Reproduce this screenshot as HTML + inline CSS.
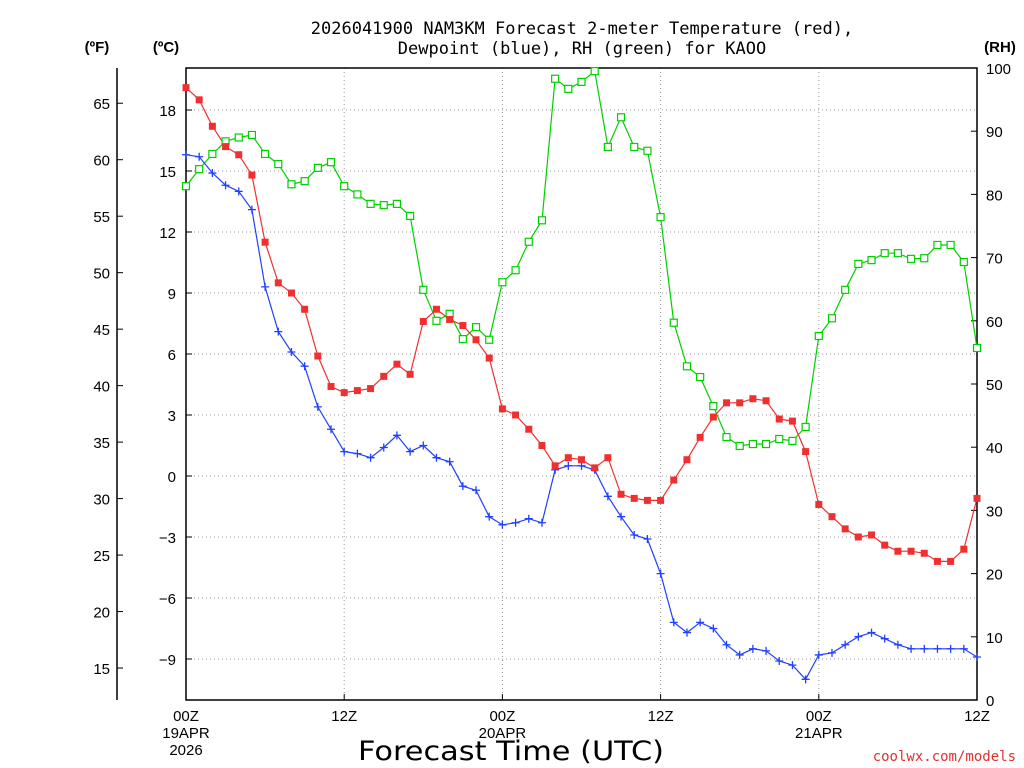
<!DOCTYPE html>
<html><head><meta charset="utf-8"><style>
body{margin:0;background:#fff;width:1024px;height:768px;overflow:hidden}
svg{display:block;font-family:"DejaVu Sans Mono","Liberation Mono",monospace}
</style></head><body>
<svg id="chart" width="1024" height="768" viewBox="0 0 1024 768">
<g id="grid"></g>
<g id="axes"></g>
<g id="series"></g>
<text x="582" y="34" text-anchor="middle" font-size="17">2026041900 NAM3KM Forecast 2-meter Temperature (red),</text>
<text x="582" y="54" text-anchor="middle" font-size="17">Dewpoint (blue), RH (green) for KAOO</text>
<text x="97" y="52" text-anchor="middle" font-size="15" font-weight="bold" font-family="Liberation Sans,sans-serif">(ºF)</text>
<text x="166" y="52" text-anchor="middle" font-size="15" font-weight="bold" font-family="Liberation Sans,sans-serif">(ºC)</text>
<text x="1000" y="52" text-anchor="middle" font-size="15" font-weight="bold" font-family="Liberation Sans,sans-serif">(RH)</text>
<text x="358" y="760" textLength="306" lengthAdjust="spacingAndGlyphs" font-size="27" font-family="DejaVu Sans,sans-serif">Forecast Time (UTC)</text>
<text x="1016" y="761" text-anchor="end" font-size="14" fill="#e03030">coolwx.com/models</text>
</svg>
<script>
const hours=[];for(let i=0;i<=60;i++)hours.push(i);
const tempC=[19.1,18.5,17.2,16.2,15.8,14.8,11.5,9.5,9.0,8.2,5.9,4.4,4.1,4.2,4.3,4.9,5.5,5.0,7.6,8.2,7.7,7.4,6.7,5.8,3.3,3.0,2.3,1.5,0.5,0.9,0.8,0.4,0.9,-0.9,-1.1,-1.2,-1.2,-0.2,0.8,1.9,2.9,3.6,3.6,3.8,3.7,2.8,2.7,1.2,-1.4,-2.0,-2.6,-3.0,-2.9,-3.4,-3.7,-3.7,-3.8,-4.2,-4.2,-3.6,-1.1];
const dewC=[15.8,15.7,14.9,14.3,14.0,13.1,9.3,7.1,6.1,5.4,3.4,2.3,1.2,1.1,0.9,1.4,2.0,1.2,1.5,0.9,0.7,-0.5,-0.7,-2.0,-2.4,-2.3,-2.1,-2.3,0.3,0.5,0.5,0.3,-1.0,-2.0,-2.9,-3.1,-4.8,-7.2,-7.7,-7.2,-7.5,-8.3,-8.8,-8.5,-8.6,-9.1,-9.3,-10.0,-8.8,-8.7,-8.3,-7.9,-7.7,-8.0,-8.3,-8.5,-8.5,-8.5,-8.5,-8.5,-8.9];
const rh=[81.3,84,86.4,88.4,89,89.4,86.4,84.8,81.6,82.1,84.2,85.1,81.3,80,78.5,78.3,78.5,76.6,64.9,60,61.1,57.1,59,57,66.1,68,72.5,75.9,98.3,96.7,97.8,99.5,87.5,92.2,87.5,86.9,76.4,59.7,52.8,51.1,46.5,41.6,40.2,40.5,40.5,41.3,41,43.2,57.6,60.4,64.9,69,69.6,70.7,70.7,69.8,69.9,72,72,69.3,55.7];
const cTicks=[-9,-6,-3,0,3,6,9,12,15,18];
const fTicks=[15,20,25,30,35,40,45,50,55,60,65];
const rhTicks=[0,10,20,30,40,50,60,70,80,90,100];
const xTickHours=[0,12,24,36,48,60];
const xTickLabels=[["00Z","19APR","2026"],["12Z"],["00Z","20APR"],["12Z"],["00Z","21APR"],["12Z"]];

const L=186,R=977,T=68,B=700;
const xS=h=>L+(R-L)*h/60;
const yC=c=>476-c*20.333;
const yF=f=>yC((f-32)*5/9);
const yRH=v=>B-(B-T)*v/100;
const NS="http://www.w3.org/2000/svg";
function mk(tag,attrs,parent,txt){const e=document.createElementNS(NS,tag);for(const k in attrs)e.setAttribute(k,attrs[k]);if(txt!==undefined)e.textContent=txt;parent.appendChild(e);return e;}
const grid=document.getElementById('grid'),axes=document.getElementById('axes'),series=document.getElementById('series');

cTicks.forEach(c=>{const y=yC(c);
 const g=mk('line',{x1:L,x2:R,y1:y,y2:y,stroke:'#999','stroke-dasharray':'1,3'},grid);
 
 mk('line',{x1:L,x2:L+6,y1:y,y2:y,stroke:'#000'},axes);
 const t=mk('text',{x:176,y:y+6,'text-anchor':'end','font-size':15,'font-family':'Liberation Sans,sans-serif'},axes,c<0?'−'+(-c):String(c));
 });
xTickHours.slice(1,5).forEach(h=>{const x=xS(h);
 const g=mk('line',{x1:x,x2:x,y1:T,y2:B,stroke:'#999','stroke-dasharray':'1,3'},grid);
 });
fTicks.forEach(f=>{const y=yF(f);
 mk('line',{x1:117,x2:123,y1:y,y2:y,stroke:'#000'},axes);
 const t=mk('text',{x:110,y:y+6,'text-anchor':'end','font-size':15,'font-family':'Liberation Sans,sans-serif'},axes,String(f));
 });
rhTicks.forEach(v=>{const y=yRH(v);
 mk('line',{x1:R-6,x2:R,y1:y,y2:y,stroke:'#000'},axes);
 const t=mk('text',{x:986,y:y+6,'font-size':15,'font-family':'Liberation Sans,sans-serif'},axes,String(v));
 });
xTickHours.forEach((h,i)=>{const x=xS(h);
 mk('line',{x1:x,x2:x,y1:B,y2:B-6,stroke:'#000'},axes);
 xTickLabels[i].forEach((s,j)=>{const t=mk('text',{x:x,y:721+j*17,'text-anchor':'middle','font-size':15,'font-family':'Liberation Sans,sans-serif'},axes,s);
 });});
const fr=mk('rect',{x:L,y:T,width:R-L,height:B-T,fill:'none',stroke:'#000','stroke-width':1.5},axes);

const fa=mk('line',{x1:117,x2:117,y1:T,y2:B,stroke:'#000','stroke-width':1.5},axes);


function line(vals,yf,col,name){const p=vals.map((v,i)=>xS(hours[i]).toFixed(1)+','+yf(v).toFixed(1)).join(' ');
 const e=mk('polyline',{points:p,fill:'none',stroke:col,'stroke-width':1.2},series);
 }
line(rh,yRH,'#00d000','rh-line');
line(dewC,yC,'#2040ff','dewpoint-line');
line(tempC,yC,'#f03030','temperature-line');
rh.forEach((v,i)=>{const e=mk('rect',{x:xS(hours[i])-3.5,y:yRH(v)-3.5,width:7,height:7,fill:'#fff',stroke:'#00d000','stroke-width':1.2},series);
 });
dewC.forEach((v,i)=>{const x=xS(hours[i]),y=yC(v);
 const e=mk('path',{d:`M${x-4},${y}H${x+4}M${x},${y-4}V${y+4}`,stroke:'#2040ff','stroke-width':1.3},series);
 });
tempC.forEach((v,i)=>{const e=mk('rect',{x:xS(hours[i])-3.5,y:yC(v)-3.5,width:7,height:7,fill:'#f03030'},series);
 });
</script>
</body></html>
